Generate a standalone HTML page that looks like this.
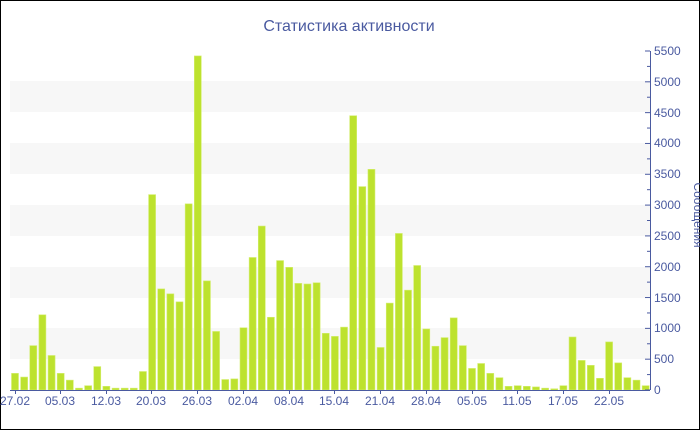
<!DOCTYPE html>
<html><head><meta charset="utf-8"><style>
html,body{margin:0;padding:0;background:#fff}
svg{display:block}
text{font-family:"Liberation Sans","DejaVu Sans",sans-serif;fill:#4a5aa0}
</style></head><body>
<svg id="s" width="700" height="430" xmlns="http://www.w3.org/2000/svg">
<rect x="0.5" y="0.5" width="699" height="429" fill="#fff" stroke="#000"/>
<g fill="#f7f7f7">
<rect x="10" y="81" width="640" height="31"/>
<rect x="10" y="143" width="640" height="31"/>
<rect x="10" y="205" width="640" height="31"/>
<rect x="10" y="267" width="640" height="31"/>
<rect x="10" y="328" width="640" height="31"/>
</g>
<g id="bars"></g>
<line x1="10" y1="390.5" x2="650" y2="390.5" stroke="#4a5aa0"/>
<line x1="650.5" y1="51" x2="650.5" y2="390" stroke="#4a5aa0"/>
<g id="ticks" stroke="#4a5aa0"></g>
<text x="349" y="31" font-size="16" text-anchor="middle">Статистика активности</text>
<g font-size="12" text-anchor="start">
<text x="654" y="55">5500</text><text x="654" y="86">5000</text><text x="654" y="117">4500</text>
<text x="654" y="147">4000</text><text x="654" y="178">3500</text><text x="654" y="209">3000</text>
<text x="654" y="240">2500</text><text x="654" y="271">2000</text><text x="654" y="302">1500</text>
<text x="654" y="332">1000</text><text x="654" y="363">500</text><text x="654" y="394">0</text>
</g>
<text transform="translate(694,215) rotate(90)" font-size="12" text-anchor="middle">Сообщения</text>
<g font-size="12" text-anchor="middle">
<text x="15" y="405">27.02</text><text x="60" y="405">05.03</text><text x="106" y="405">12.03</text>
<text x="151" y="405">20.03</text><text x="197" y="405">26.03</text><text x="243" y="405">02.04</text>
<text x="289" y="405">08.04</text><text x="334" y="405">15.04</text><text x="380" y="405">21.04</text>
<text x="426" y="405">28.04</text><text x="472" y="405">05.05</text><text x="517" y="405">11.05</text>
<text x="563" y="405">17.05</text><text x="609" y="405">22.05</text>
</g>
</svg>
<script>
var v=[270,210,720,1220,560,270,160,30,70,380,60,30,30,30,300,3170,1640,1560,1430,3020,5420,1770,950,170,180,1010,2150,2660,1180,2100,1990,1730,1720,1740,920,870,1020,4450,3300,3580,690,1410,2540,1620,2020,990,710,850,1170,720,350,430,270,200,60,70,60,50,30,20,70,860,480,400,190,780,440,200,160,70];
var ns="http://www.w3.org/2000/svg",g=document.getElementById("bars"),t=document.getElementById("ticks");
var k=339/5500;
v.forEach(function(d,i){var c=15+i*9.14,h=d*k,r=document.createElementNS(ns,"rect");
r.setAttribute("x",c-3.5);r.setAttribute("y",390-h);r.setAttribute("width",7);r.setAttribute("height",h);
r.setAttribute("fill","#bde22e");r.setAttribute("stroke","#d4ee70");r.setAttribute("stroke-width","0.6");g.appendChild(r);});
for(var i=0;i<=22;i++){var y=390-i*250*k,l=document.createElementNS(ns,"line");
l.setAttribute("x1",i%2?647:645);l.setAttribute("x2",650);l.setAttribute("y1",y);l.setAttribute("y2",y);t.appendChild(l);}
[15,60,106,151,197,243,289,334,380,426,472,517,563,609].forEach(function(x){var l=document.createElementNS(ns,"line");
l.setAttribute("x1",x+0.5);l.setAttribute("x2",x+0.5);l.setAttribute("y1",390);l.setAttribute("y2",394);t.appendChild(l);});
</script>
</body></html>
